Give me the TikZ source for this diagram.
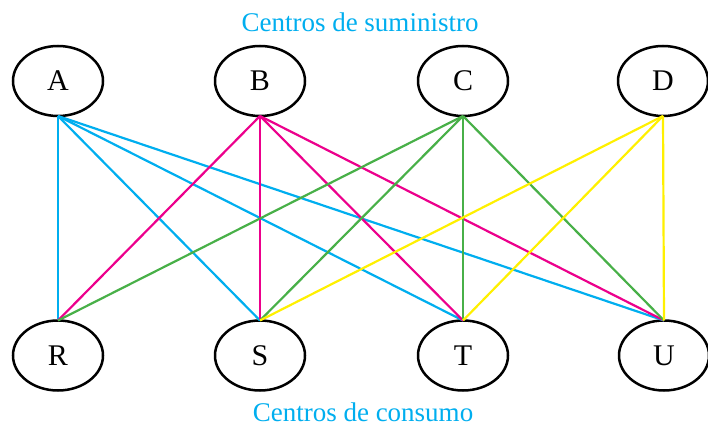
\documentclass[tikz,border=0pt]{standalone}
\usepackage{fontspec}
\setmainfont{Liberation Serif}
\usetikzlibrary{shapes.geometric}
\definecolor{ccyan}{RGB}{0,174,239}
\definecolor{cmag}{RGB}{236,0,140}
\definecolor{cgreen}{RGB}{72,176,72}
\definecolor{cyell}{RGB}{255,240,0}
\begin{document}
\begin{tikzpicture}[x=1pt,y=1pt,
  vert/.style={draw=black,line width=2.5pt,ellipse,minimum width=90pt,minimum height=70pt,inner sep=0pt,outer sep=0pt,font=\fontsize{30}{34}\selectfont},
  lbl/.style={text=ccyan,font=\fontsize{27}{30}\selectfont,inner sep=0pt,anchor=base},
  ea/.style={draw=ccyan,line width=2.2pt},
  eb/.style={draw=cmag,line width=2.2pt},
  ec/.style={draw=cgreen,line width=2.2pt},
  ed/.style={draw=cyell,line width=2.2pt}]
\useasboundingbox (0,0) rectangle (708,428);
\node[vert] (A) at (58,347) {A};
\node[vert] (B) at (260,347) {B};
\node[vert] (C) at (463,347) {C};
\node[vert] (D) at (663,347) {D};
\node[vert] (R) at (58,72.5) {R};
\node[vert] (S) at (260,72.5) {S};
\node[vert] (T) at (463,72.5) {T};
\node[vert] (U) at (664,72.5) {U};
\node[lbl] (top) at (360,396) {Centros de suministro};
\node[lbl] (bot) at (363,7) {Centros de consumo};
\foreach \t in {R,S,T,U} \draw[ea] (A.south) -- (\t.north);
\foreach \t in {R,S,T,U} \draw[eb] (B.south) -- (\t.north);
\foreach \t in {R,S,T,U} \draw[ec] (C.south) -- (\t.north);
\foreach \t in {S,T,U} \draw[ed] (D.south) -- (\t.north);
\end{tikzpicture}
\end{document}
